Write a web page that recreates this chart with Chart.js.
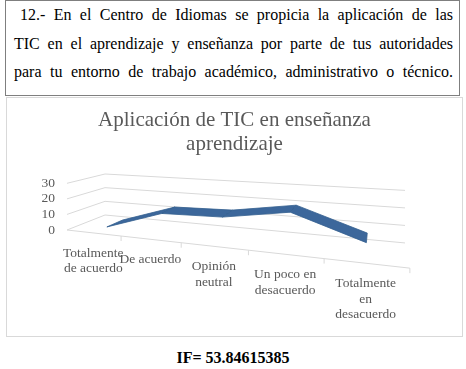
<!DOCTYPE html>
<html>
<head>
<meta charset="utf-8">
<script src="https://cdn.jsdelivr.net/npm/chart.js@4"></script>
<style>
  body { margin: 0; background: #fff; width: 466px; height: 369px; position: relative; overflow: hidden; }
  #q { position: absolute; left: 5px; top: 0; width: 439px; height: 94px; border: 1px solid #7f7f7f;
       padding: 0 6px 0 8px; font: 16px 'Liberation Serif'; line-height: 28.5px; color: #000; }
  .ln { text-align: justify; text-align-last: justify; }
  #box { position: absolute; left: 6px; top: 97px; width: 455px; height: 238px; border: 1px solid #d9d9d9; }
  #ifv { position: absolute; left: 0; top: 348px; width: 466px; text-align: center;
         font: bold 16px 'Liberation Serif'; line-height: 20px; color: #000; }
</style>
</head>
<body>
<div id="q">
  <div class="ln" style="padding-left:6px">12.- En el Centro de Idiomas se propicia la aplicación de las</div>
  <div class="ln">TIC en el aprendizaje y enseñanza por parte de tus autoridades</div>
  <div class="ln">para tu entorno de trabajo académico, administrativo o técnico.</div>
</div>
<div id="box"><canvas id="chart" width="455" height="238"></canvas></div>
<div id="ifv">IF= 53.84615385</div>
<script>
const categories = [['Totalmente', 'de acuerdo'], 'De acuerdo', ['Opinión', 'neutral'], ['Un poco en', 'desacuerdo'], ['Totalmente', 'en', 'desacuerdo']];
const values = [0, 12, 13, 19, 6];
const yTicks = [0, 10, 20, 30];

const grey = '#595959';
const serif = "'Liberation Serif', serif";
// canvas sits at (7,98) inside the page
const OX = 7, OY = 98;
// perspective of the 3d box: u = along categories, v = value (0..1), w = depth (0 back, 1 front)
const P = { x0: 105, y0: 215, au: 210.9, bu: -25.5, av: 0, bv: -41, aw: -46.2, bw: -13.06, cu: -0.22, cv: 0, cw: -0.122 };
function project(u, v, w) {
  const d = 1 + P.cu * u + P.cv * v + P.cw * w;
  return [(P.x0 + P.au * u + P.av * v + P.aw * w) / d - OX,
          (P.y0 + P.bu * u + P.bv * v + P.bw * w) / d - OY];
}

const box3d = {
  id: 'box3d',
  afterDatasetsDraw(chart) {
    const {ctx} = chart;
    const x = chart.scales.x, y = chart.scales.y;
    const uOf = px => (px - x.left) / (x.right - x.left);
    const vOf = py => (y.bottom - py) / (y.bottom - y.top);
    const seg = (a, b) => { ctx.beginPath(); ctx.moveTo(a[0], a[1]); ctx.lineTo(b[0], b[1]); ctx.stroke(); };

    ctx.save();
    ctx.strokeStyle = '#d9d9d9';
    ctx.lineWidth = 1;
    // side wall + back wall gridlines
    y.ticks.forEach(t => {
      const v = vOf(y.getPixelForValue(t.value));
      const a = project(0, v, 1), b = project(0, v, 0), c = project(1, v, 0);
      ctx.beginPath(); ctx.moveTo(a[0], a[1]); ctx.lineTo(b[0], b[1]); ctx.lineTo(c[0], c[1]); ctx.stroke();
    });
    // floor front edge and ticks
    seg(project(0, 0, 1), project(1, 0, 1));
    for (let k = 1; k <= categories.length; k++) {
      const p = project(uOf(x.getPixelForValue(k - 0.5)), 0, 1);
      seg(p, [p[0], p[1] + 5]);
    }

    // ribbon
    const pts = chart.getDatasetMeta(0).data.map(p => [uOf(p.x), vOf(p.y)]);
    const front = pts.map(p => project(p[0], p[1], 0.65));
    const back = pts.map(p => project(p[0], p[1], 0.2));
    ctx.fillStyle = '#3c679b';
    ctx.strokeStyle = '#34608f';
    ctx.lineWidth = 0.8;
    for (let i = 0; i < pts.length - 1; i++) {
      ctx.beginPath();
      ctx.moveTo(front[i][0], front[i][1]);
      ctx.lineTo(front[i + 1][0], front[i + 1][1]);
      ctx.lineTo(back[i + 1][0], back[i + 1][1]);
      ctx.lineTo(back[i][0], back[i][1]);
      ctx.closePath();
      ctx.fill();
      ctx.stroke();
    }

    // y tick labels
    ctx.fillStyle = grey;
    ctx.font = '13.5px ' + serif;
    ctx.textAlign = 'right';
    ctx.textBaseline = 'middle';
    y.ticks.forEach(t => {
      const p = project(0, vOf(y.getPixelForValue(t.value)), 1);
      ctx.fillText(String(t.value), p[0] - 12, p[1]);
    });

    // category labels
    ctx.textAlign = 'center';
    chart.data.labels.forEach((lab, i) => {
      const lines = Array.isArray(lab) ? lab : [lab];
      const p = project(uOf(x.getPixelForValue(i)), 0, 1);
      lines.forEach((s, j) => ctx.fillText(s, p[0], p[1] + 20.5 + j * 15.5));
    });
    ctx.restore();
  }
};

function draw() {
  new Chart(document.getElementById('chart'), {
    type: 'line',
    data: {
      labels: categories,
      datasets: [{
        data: values,
        borderColor: 'rgba(0,0,0,0)',
        borderWidth: 0,
        pointRadius: 0,
        showLine: false
      }]
    },
    options: {
      responsive: false,
      animation: false,
      layout: { padding: 0 },
      plugins: {
        legend: { display: false },
        tooltip: { enabled: false },
        title: {
          display: true,
          text: ['Aplicación de TIC en enseñanza', 'aprendizaje'],
          color: grey,
          font: { family: serif, size: 21, weight: 'normal', lineHeight: 1.15 },
          padding: { top: 10, bottom: 10 }
        }
      },
      scales: {
        x: { display: false, offset: true },
        y: { display: false, min: yTicks[0], max: yTicks[yTicks.length - 1], ticks: { stepSize: yTicks[1] - yTicks[0] } }
      }
    },
    plugins: [box3d]
  });
}

document.fonts.load("16px 'Liberation Serif'").then(draw, draw);
</script>
</body>
</html>
